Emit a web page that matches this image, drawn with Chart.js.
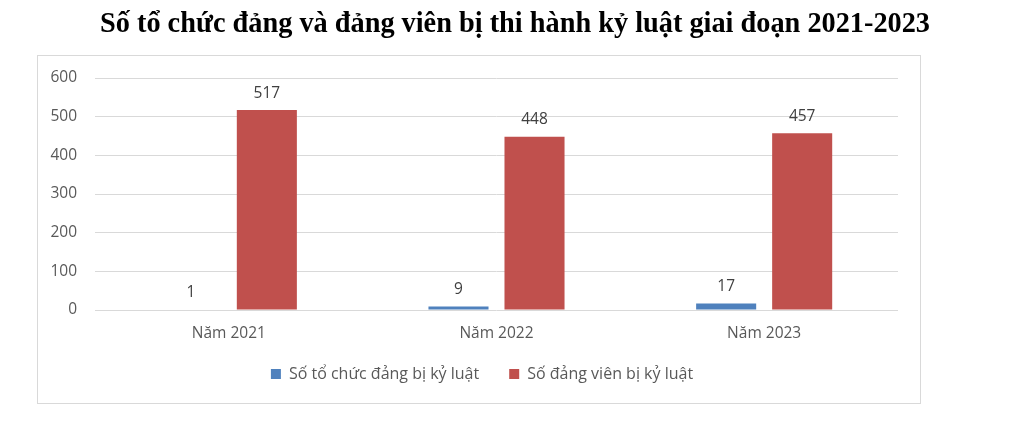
<!DOCTYPE html>
<html>
<head>
<meta charset="utf-8">
<script src="https://cdn.jsdelivr.net/npm/chart.js@4.4.0/dist/chart.umd.min.js"></script>
<style>
  html, body { margin: 0; padding: 0; background: #fff; }
  #wrap { width: 1022px; height: 422px; position: relative; }
</style>
</head>
<body>
<div id="wrap"><canvas id="chartKyLuat"></canvas></div>
<script>
// du lieu bieu do
var titleText = 'Số tổ chức đảng và đảng viên bị thi hành kỷ luật giai đoạn 2021-2023';
var years = ['Năm 2021', 'Năm 2022', 'Năm 2023'];
var seriesNames = ['Số tổ chức đảng bị kỷ luật', 'Số đảng viên bị kỷ luật'];
var toChucValues = [1, 9, 17];
var dangVienValues = [517, 448, 457];
var yTicks = [0, 100, 200, 300, 400, 500, 600];

var fontSans = "'Open Sans', 'Liberation Sans', sans-serif";

// khung vien + tieu de
const frameAndTitle = {
  id: 'frameAndTitle',
  afterLayout(chart) {
    // dich chu thich len tren va sang phai mot chut cho giong anh goc
    const lg = chart.legend;
    lg.top -= 7; lg.bottom -= 7;
    lg.left += 14.5; lg.right += 14.5;
  },
  beforeDraw(chart) {
    const ctx = chart.ctx;
    ctx.save();
    ctx.strokeStyle = '#D9D9D9';
    ctx.lineWidth = 1;
    ctx.strokeRect(37.5, 55.5, 883, 348);
    ctx.restore();
  },
  afterDraw(chart) {
    const ctx = chart.ctx;
    ctx.save();
    ctx.font = "bold 29px 'Liberation Serif', 'Times New Roman', serif";
    ctx.fillStyle = '#000';
    ctx.textAlign = 'center';
    ctx.textBaseline = 'alphabetic';
    var w = ctx.measureText(titleText).width;
    var sx = 830 / w;
    ctx.translate(515, 32);
    ctx.scale(sx, 1);
    ctx.fillText(titleText, 0, 0);
    ctx.restore();
  }
};

// nhan gia tri tren cot
const valueLabels = {
  id: 'valueLabels',
  afterDatasetsDraw(chart) {
    const ctx = chart.ctx;
    ctx.save();
    ctx.font = '15.5px ' + fontSans;
    ctx.fillStyle = '#404040';
    ctx.textAlign = 'center';
    ctx.textBaseline = 'bottom';
    chart.data.datasets.forEach(function(ds, i) {
      chart.getDatasetMeta(i).data.forEach(function(bar, j) {
        ctx.fillText(ds.data[j], bar.x, bar.y - 9);
      });
    });
    ctx.restore();
  }
};

var ctxKyLuat = document.getElementById('chartKyLuat').getContext('2d');
var chartKyLuat = new Chart(ctxKyLuat, {
  type: 'bar',
  data: {
    labels: years,
    datasets: [
      { label: seriesNames[0], data: toChucValues, backgroundColor: '#4F81BD' },
      { label: seriesNames[1], data: dangVienValues, backgroundColor: '#C0504D' }
    ]
  },
  options: {
    responsive: true,
    maintainAspectRatio: false,
    animation: false,
    categoryPercentage: 0.568,
    barPercentage: 0.79,
    layout: { padding: { top: 78, left: 37, right: 124, bottom: 23 } },
    scales: {
      x: {
        grid: { display: false, drawTicks: false },
        border: { display: false },
        afterFit(scale) { scale.height = 33; },
        ticks: { color: '#595959', font: { family: fontSans, size: 15.5 }, padding: 14 }
      },
      y: {
        min: 0,
        max: 600,
        afterBuildTicks(scale) { scale.ticks = yTicks.map(function(v) { return { value: v }; }); },
        afterFit(scale) { scale.width = 58; },
        grid: { color: '#D9D9D9', drawTicks: false },
        border: { display: false },
        ticks: { color: '#595959', font: { family: fontSans, size: 15.5 }, padding: 18 }
      }
    },
    plugins: {
      legend: {
        position: 'bottom',
        labels: {
          color: '#595959',
          font: { family: fontSans, size: 16 },
          boxWidth: 10,
          boxHeight: 10,
          padding: 30
        }
      },
      tooltip: { enabled: false },
      title: { display: false }
    }
  },
  plugins: [frameAndTitle, valueLabels]
});
</script>
</body>
</html>
